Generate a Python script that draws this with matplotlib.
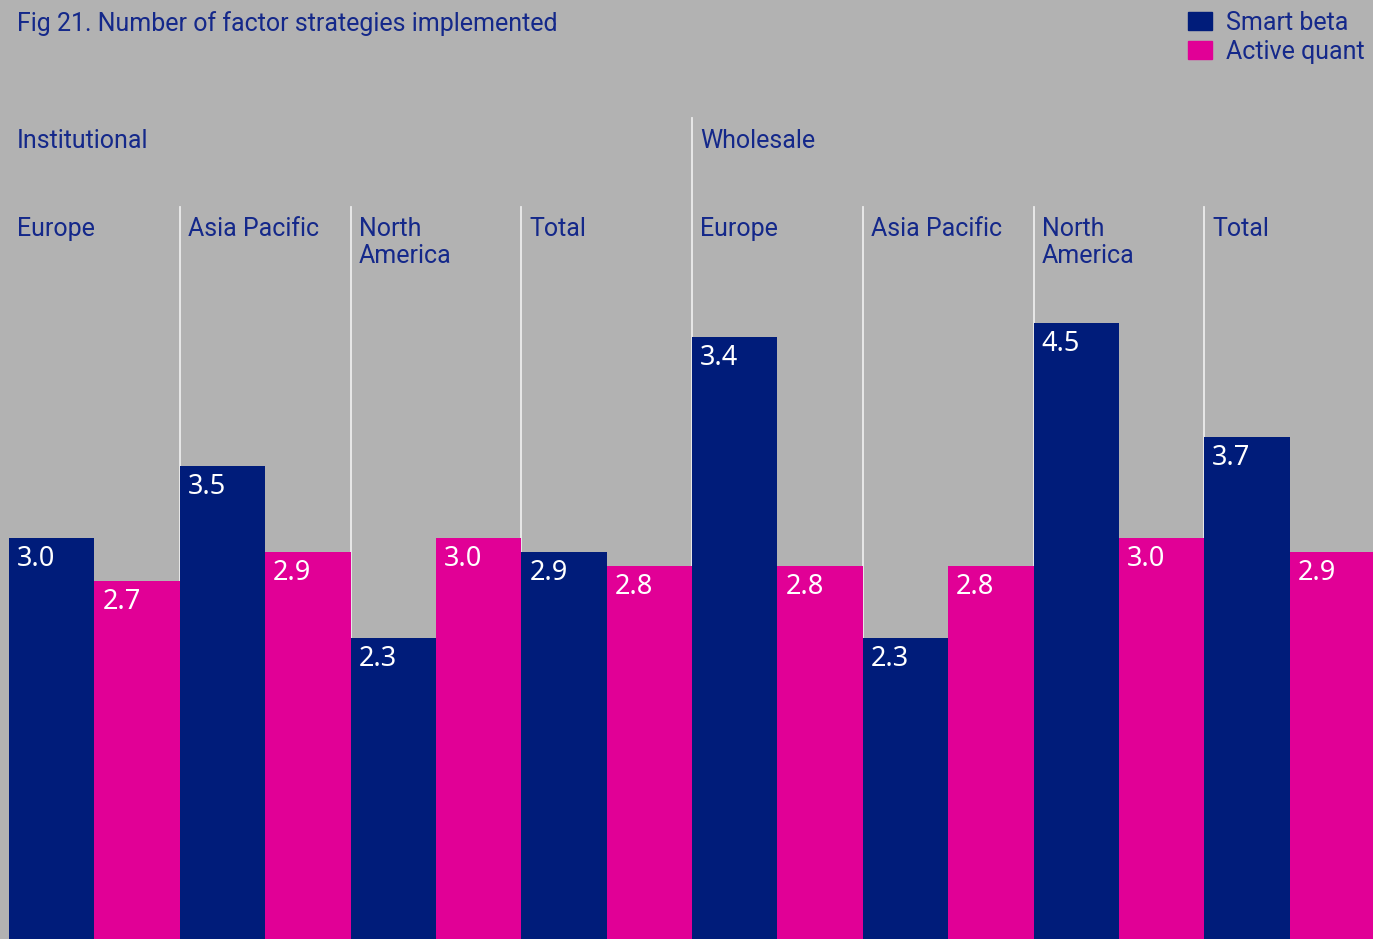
import matplotlib.pyplot as plt
from matplotlib.patches import Rectangle

# Data
regions = ["Europe", "Asia Pacific", "North\nAmerica", "Total",
           "Europe", "Asia Pacific", "North\nAmerica", "Total"]
segments = ["Institutional", "Wholesale"]
# bar heights as drawn; the Wholesale Europe bar is drawn near 4.4 but labelled 3.4
smart_beta = [3.0, 3.5, 2.3, 2.9, 4.4, 2.3, 4.5, 3.7]
smart_beta_labels = ["3.0", "3.5", "2.3", "2.9", "3.4", "2.3", "4.5", "3.7"]
active_quant = [2.7, 2.9, 3.0, 2.8, 2.8, 2.8, 3.0, 2.9]
series = ["Smart beta", "Active quant"]

NAVY = "#001c7a"
MAGENTA = "#e10096"
BG = "#b2b2b2"
TEXT = "#14288a"
FONT = "Roboto"
VFONT = "Noto Sans"
W, H = 1373, 939
FS = 18

plt.rcParams["font.family"] = [FONT, "DejaVu Sans"]

fig = plt.figure(figsize=(W / 100, H / 100), dpi=100, facecolor=BG)
ax = fig.add_axes([0, 0, 1, 1])
ax.set_facecolor(BG)

# x = 9 + 170.75*u px; value baseline sits a little below the picture
ax.set_xlim(-9 / 170.75, (W - 9) / 170.75)
ax.set_ylim(0.198, 6.755)
for s in ax.spines.values():
    s.set_visible(False)
ax.set_xticks([])
ax.set_yticks([])


def vy(py):
    # pixel row -> data value
    return 0.198 + (H - py) / 143.2


w = 0.5
for i, (sb, aq) in enumerate(zip(smart_beta, active_quant)):
    ax.bar(i, sb, width=w, align="edge", color=NAVY, zorder=2)
    ax.bar(i + w, aq, width=w, align="edge", color=MAGENTA, zorder=2)
    for x0, v, lab in ((i, sb, smart_beta_labels[i]), (i + w, aq, f"{aq:.1f}")):
        ax.annotate(lab, (x0, v), xytext=(8, -21), textcoords="offset pixels",
                    ha="left", va="center", color="white", fontsize=19.5,
                    family=[VFONT, "DejaVu Sans"], zorder=3)

# separators
for i in range(1, len(regions)):
    top = vy(118) if i == 4 else vy(207)
    ax.plot([i, i], [0, top], color="#ececec", lw=1.3, zorder=1)

# region labels (first line centred on row 227, 29 px line pitch)
for i, name in enumerate(regions):
    nl = name.count("\n")
    ax.text(i + 0.047, vy(227 + 11.5 * nl), name, ha="left", va="center_baseline",
            color=TEXT, fontsize=FS, linespacing=1.16)

for j, name in enumerate(segments):
    ax.text(j * 4 + 0.047, vy(139), name, ha="left", va="center_baseline",
            color=TEXT, fontsize=FS)

fig.text(17 / W, 1 - 21 / H, "Fig 21. Number of factor strategies implemented",
         ha="left", va="center_baseline", color=TEXT, fontsize=FS)

# legend
for k, (name, col) in enumerate(zip(series, [NAVY, MAGENTA])):
    ytop = 12 + 29 * k
    fig.patches.append(Rectangle((1188 / W, 1 - (ytop + 18) / H), 24 / W, 18 / H,
                                 transform=fig.transFigure, color=col, figure=fig))
    fig.text(1226 / W, 1 - (ytop + 9) / H, name, ha="left", va="center_baseline",
             color=TEXT, fontsize=FS)

fig.savefig("out.png", dpi=100, facecolor=BG)
